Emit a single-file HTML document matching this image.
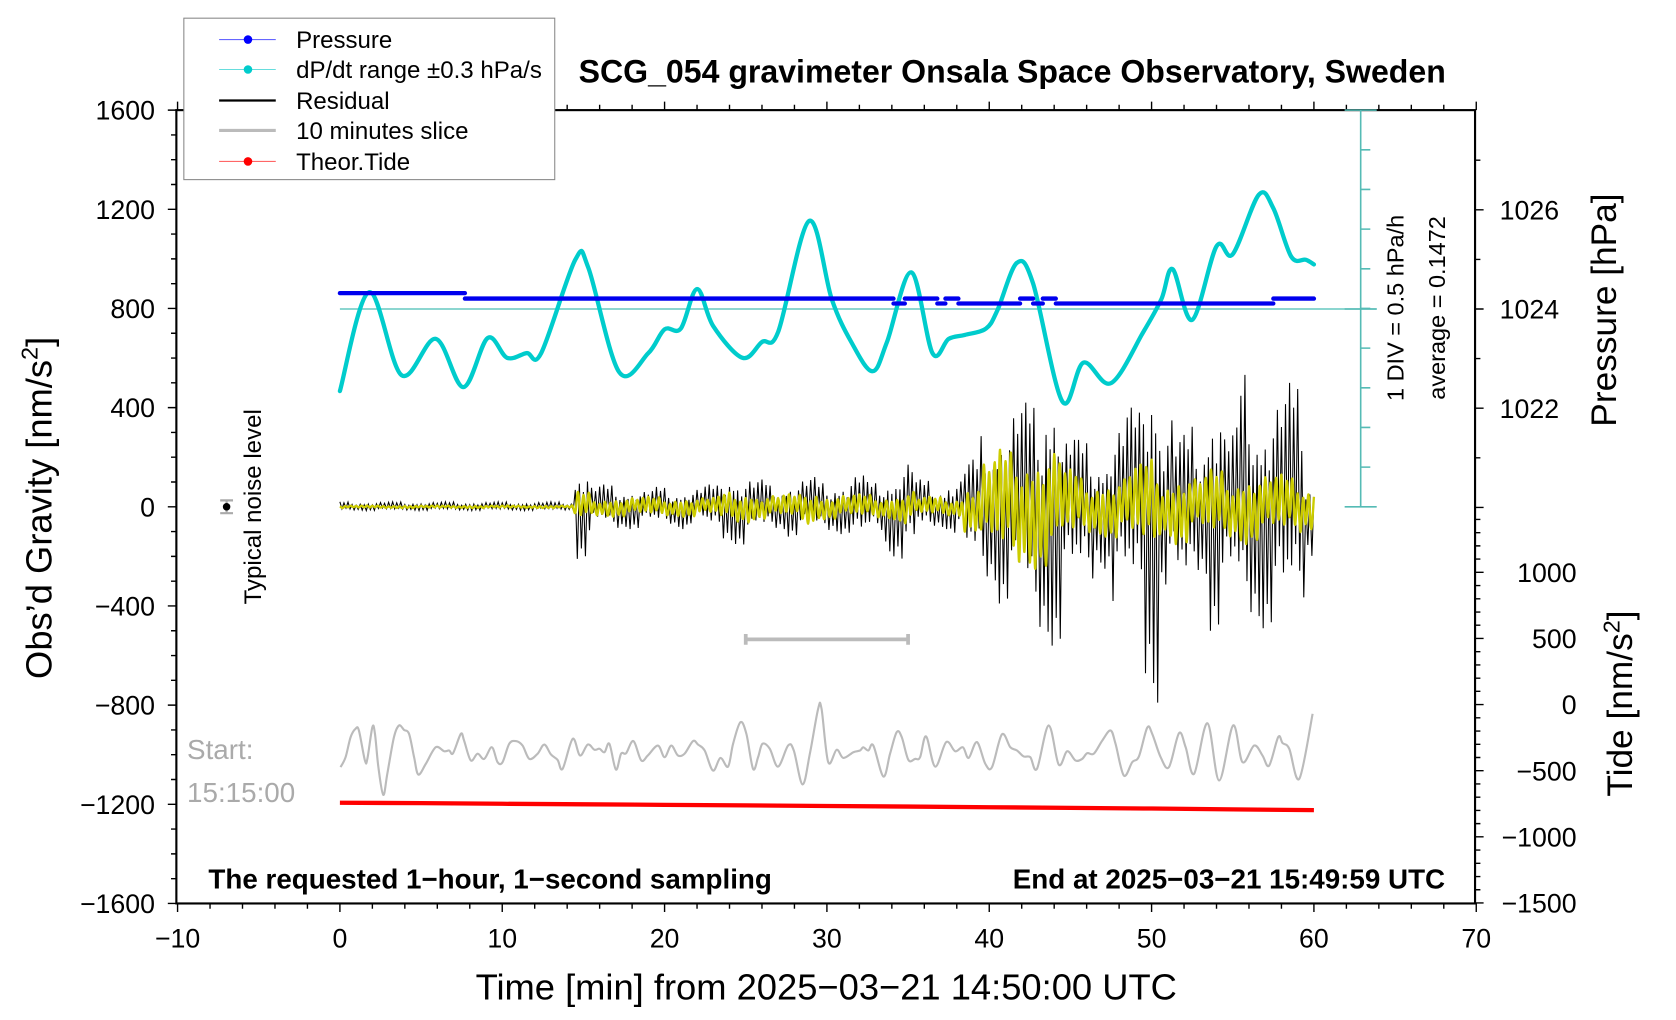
<!DOCTYPE html>
<html><head><meta charset="utf-8"><style>
html,body{margin:0;padding:0;background:#fff;}
svg{display:block;font-family:"Liberation Sans",sans-serif;}
</style></head><body>
<svg id="chart" xmlns="http://www.w3.org/2000/svg" width="1676" height="1020" viewBox="0 0 1568 954" preserveAspectRatio="none">
<g id="marks"></g>
<g id="axes"></g>
</svg>
<script>
// ---- data ----
const dpT = [0,1.8,3.8,5.9,7.6,9.1,10.3,11.5,12.4,14.5,15.3,17.2,19,20,21,22,23,24.8,26,27,28.9,30.3,31.5,32.8,33.7,35.2,36.5,37.5,38.5,39.8,40.5,41.7,42.7,44.5,45.8,47.5,49.5,50.6,51.3,52.5,54,55,56.6,57.5,58.6,59.5,60];
const dpV = [-0.89,0.36,-0.69,-0.23,-0.84,-0.22,-0.47,-0.41,-0.41,0.77,0.67,-0.65,-0.41,-0.11,-0.10,0.40,-0.07,-0.47,-0.27,-0.14,1.26,0.27,-0.27,-0.64,-0.27,0.61,-0.41,-0.23,-0.18,-0.10,0.13,0.73,0.47,-1.02,-0.53,-0.79,-0.14,0.27,0.65,0.01,0.94,0.84,1.59,1.42,0.81,0.77,0.71];
const dpAverage = 0.1472;
const presStart = [0,7.7,34.1,34.8,36.8,37.3,38.1,41.9,42.7,43.3,44.1,57.5];
const presEnd   = [7.7,34.1,34.8,36.8,37.3,38.1,41.9,42.7,43.3,44.1,57.5,60];
const presVal   = [1024.32,1024.21,1024.11,1024.21,1024.11,1024.21,1024.11,1024.21,1024.11,1024.21,1024.11,1024.21];
const tideT = [0,5,10,15,20,25,30,35,40,45,50,55,60];
const tideV = [-742,-745,-750,-754,-758,-762,-767,-771,-776,-781,-786,-792,-798];
const sliceT = [0.04,0.35,0.66,0.97,1.17,1.54,1.69,2.0,2.16,2.37,2.67,2.92,3.33,3.64,3.95,4.26,4.57,4.83,5.29,5.9,6.42,6.73,6.97,7.45,7.65,8.06,8.48,8.89,9.36,9.71,10.02,10.43,10.84,11.25,11.67,12.18,12.59,13.0,13.41,13.72,14.34,14.79,15.27,15.68,15.99,16.3,16.6,17.0,17.32,17.63,18.08,18.56,18.97,19.59,20.0,20.41,20.82,21.23,21.75,22.06,22.47,22.98,23.44,23.91,24.22,24.67,25.04,25.45,25.76,26.03,26.48,26.99,27.61,27.96,28.5,28.95,29.46,29.67,30.08,30.6,31.01,31.63,32.04,32.24,32.55,32.86,33.48,33.89,34.3,34.61,35.02,35.43,35.74,36.11,36.67,37.35,37.9,38.38,38.73,39.24,39.76,40.17,40.78,41.3,41.71,42.12,42.53,42.94,43.66,44.28,44.8,45.31,45.72,46.03,46.44,46.96,47.47,47.78,48.29,48.81,49.22,49.73,50.04,50.56,51.07,51.69,52.1,52.62,53.44,54.16,55.02,55.6,56.32,56.83,57.24,57.8,58.07,58.48,59.1,59.92];
const sliceV = [-1050,-1010,-929,-895,-902,-1023,-1017,-889,-916,-1050,-1162,-1077,-929,-882,-900,-916,-1010,-1080,-1037,-970,-986,-983,-994,-916,-943,-1023,-996,-1017,-970,-1030,-1030,-956,-945,-963,-1017,-996,-959,-999,-1021,-1057,-936,-1003,-959,-980,-976,-990,-956,-1060,-996,-994,-945,-1023,-1003,-963,-1010,-963,-1003,-996,-945,-959,-983,-1064,-1013,-1048,-956,-869,-916,-1057,-1010,-956,-976,-1048,-963,-983,-1120,-996,-815,-815,-1030,-980,-1013,-990,-983,-970,-983,-963,-1088,-996,-909,-929,-1021,-1017,-1010,-926,-1048,-949,-986,-970,-1013,-949,-1037,-1050,-918,-970,-983,-1007,-1010,-1057,-882,-1040,-986,-1023,-1017,-994,-996,-943,-902,-956,-1084,-1030,-1007,-891,-916,-1010,-1050,-913,-970,-1077,-873,-1104,-882,-1030,-963,-1003,-1044,-929,-953,-976,-1097,-835];
const residUp  = [20,20,20,20,20,20,20,20,20,20,20,20,20,20,20,170,90,90,80,70,80,70,80,90,160,120,110,90,110,120,100,110,140,100,130,200,110,90,120,190,300,380,420,420,580,300,270,240,350,400,740,410,290,340,500,320,560,420,460,500,100];
const residLow = [15,15,15,15,15,15,15,15,15,15,15,15,15,15,15,210,80,100,90,80,80,90,70,100,150,160,110,100,120,100,110,110,160,110,200,220,100,90,110,250,330,390,450,570,560,380,340,250,400,420,790,330,430,300,500,400,500,490,530,430,220];
const filtAmp  = [5,5,5,5,5,5,5,5,5,5,5,5,5,5,5,60,40,40,40,40,40,40,40,40,60,70,50,50,50,80,50,50,50,50,50,70,40,40,40,100,200,230,260,250,250,150,120,120,130,170,200,130,150,130,150,140,150,140,130,120,100];
const residPattern = [1,0.55,0.8,0.35,0.95,0.6,0.45,0.85,0.3,0.7,0.5,0.9,0.4];
const xTicks = [-10,0,10,20,30,40,50,60,70];
const yTicks = [-1600,-1200,-800,-400,0,400,800,1200,1600];
const pTicks = [1022,1024,1026];
const tideTicks = [-1500,-1000,-500,0,500,1000];

// ---- scales ----
const X = t => 318 + t * 15.1875;
const Y = g => 474 - g * 0.231875;
const P = p => 289 - (p - 1024) * 46.4;
const T = v => 659 - v * 0.1237;
const D = v => 289 - (v - dpAverage) * 74;
const NS = "http://www.w3.org/2000/svg";
const marks = document.getElementById('marks');
const axes = document.getElementById('axes');
function mk(tag, attrs, parent) {
  const e = document.createElementNS(NS, tag);
  for (const k in attrs) e.setAttribute(k, attrs[k]);
  (parent || marks).appendChild(e);
  return e;
}
function smoothPath(pts) {
  let d = `M${pts[0][0]},${pts[0][1]}`;
  for (let i = 0; i < pts.length - 1; i++) {
    const p0 = pts[i - 1] || pts[i], p1 = pts[i], p2 = pts[i + 1], p3 = pts[i + 2] || p2;
    const c1x = p1[0] + (p2[0] - p0[0]) / 6, c1y = p1[1] + (p2[1] - p0[1]) / 6;
    const c2x = p2[0] - (p3[0] - p1[0]) / 6, c2y = p2[1] - (p3[1] - p1[1]) / 6;
    d += ` C${c1x},${c1y} ${c2x},${c2y} ${p2[0]},${p2[1]}`;
  }
  return d;
}
function txt(x, y, s, attrs, parent) {
  const e = mk('text', Object.assign({x: x, y: y}, attrs), parent || axes);
  e.textContent = s;
  return e;
}

let e = mk('line', {x1: X(0), x2: 1288, y1: D(dpAverage), y2: D(dpAverage), stroke: '#66c8c0', 'stroke-width': 1.3});



let rp = [];
for (let k = 0; k <= 480; k++) {
  const t = k / 8;
  const m = Math.min(60, Math.round(t));
  const a = (k % 2 === 0 ? residUp[m] : -residLow[m]) * residPattern[k % residPattern.length];
  rp.push([X(t), Y(a)]);
}
e = mk('path', {d: 'M' + rp.map(p => p.join(',')).join(' L'), fill: 'none', stroke: '#000', 'stroke-width': 1});


let fp = [];
for (let k = 0; k <= 360; k++) {
  const t = k / 6;
  const m = Math.min(60, Math.round(t));
  const a = (k % 2 === 0 ? 1 : -1) * filtAmp[m] * residPattern[(k + 3) % residPattern.length];
  fp.push([X(t), Y(a)]);
}
e = mk('path', {d: smoothPath(fp), fill: 'none', stroke: '#cccc00', 'stroke-width': 2.2});



e = mk('path', {d: smoothPath(dpT.map((t, i) => [X(t), D(dpV[i])])), fill: 'none', stroke: '#00cccc', 'stroke-width': 4, 'stroke-linecap': 'round'});



presVal.forEach((p, i) => {
  const s = mk('line', {x1: X(presStart[i]), x2: X(presEnd[i]), y1: P(p), y2: P(p), stroke: '#0000ee', 'stroke-width': 4, 'stroke-linecap': 'round'});
  
  
});

e = mk('path', {d: smoothPath(sliceT.map((t, i) => [X(t), Y(sliceV[i])])), fill: 'none', stroke: '#bbbbbb', 'stroke-width': 2});



e = mk('path', {d: 'M' + tideT.map((t, i) => X(t) + ',' + T(tideV[i])).join(' L'), fill: 'none', stroke: '#ff0000', 'stroke-width': 4});



e = mk('path', {d: `M${X(25)},${593} V603 M${X(25)},598 H${X(35)} M${X(35)},593 V603`, stroke: '#bbbbbb', 'stroke-width': 3.5, fill: 'none'});



e = mk('path', {d: 'M206,468 H218 M212,468 V480 M206,480 H218', stroke: '#aaa', 'stroke-width': 2, fill: 'none'});


e = mk('circle', {cx: 212, cy: 474, r: 3.5, fill: '#000'});



e = mk('rect', {x: 165, y: 103, width: 1215, height: 742, fill: 'none', stroke: '#000', 'stroke-width': 2}, axes);


let tk = '';
for (let t = -10; t <= 70; t += 2) {
  const len = (t % 10 === 0) ? 8 : 5;
  tk += `M${X(t)},845 V${845 + len} M${X(t)},103 V${103 - len} `;
}
for (let g = -1600; g <= 1600; g += 100) {
  const len = (g % 400 === 0) ? 8 : 5;
  tk += `M165,${Y(g)} H${165 - len} `;
}
for (let p = 1020; p <= 1027; p++) {
  const len = (p % 2 === 0) ? 8 : 5;
  tk += `M1380,${P(p)} H${1380 + len} `;
}
for (let v = -1500; v <= 1400; v += 100) {
  const len = (v % 500 === 0) ? 8 : 5;
  tk += `M1380,${T(v)} H${1380 + len} `;
}
e = mk('path', {d: tk, stroke: '#000', 'stroke-width': 1.3, fill: 'none'}, axes);


const fmt = v => (v < 0 ? '\u2212' + Math.abs(v) : String(v));
xTicks.forEach(t => { const l = txt(X(t), 886, fmt(t), {'font-size': 25, 'text-anchor': 'middle'});   });
yTicks.forEach(g => { const l = txt(145, Y(g) + 9, fmt(g), {'font-size': 25, 'text-anchor': 'end'});   });
pTicks.forEach(p => { const l = txt(1403, P(p) + 9, String(p), {'font-size': 25});   });
tideTicks.forEach(v => { const l = txt(1475, T(v) + 9, fmt(v), {'font-size': 25, 'text-anchor': 'end'});   });

let sb = 'M1273,103 V474 M1258,474 H1288 M1258,289 H1288 M1258,103 H1288 ';
for (let y = 103 + 37.1; y < 474; y += 37.1) sb += `M1273,${y} H1282 `;
e = mk('path', {d: sb, stroke: '#55bbb5', 'stroke-width': 1.5, fill: 'none'}, axes);


</script>
<svg style="position:absolute;left:0;top:0" width="1676" height="1020" viewBox="0 0 1568 954" preserveAspectRatio="none" font-family="Liberation Sans, sans-serif">
<text x="947" y="77" font-size="30" font-weight="bold" text-anchor="middle">SCG_054 gravimeter Onsala Space Observatory, Sweden</text>
<text x="773" y="935" font-size="34" text-anchor="middle">Time [min] from 2025−03−21 14:50:00 UTC</text>
<text transform="translate(48,475) rotate(-90)" font-size="34" text-anchor="middle">Obs’d Gravity [nm/s<tspan font-size="22" dy="-13">2</tspan><tspan dy="13">]</tspan></text>
<text transform="translate(1512,290) rotate(-90)" font-size="33" text-anchor="middle">Pressure [hPa]</text>
<text transform="translate(1527,658) rotate(-90)" font-size="33" text-anchor="middle">Tide [nm/s<tspan font-size="22" dy="-12">2</tspan><tspan dy="12">]</tspan></text>
<text transform="translate(1313,288) rotate(-90)" font-size="22" text-anchor="middle">1 DIV = 0.5 hPa/h</text>
<text transform="translate(1352,288) rotate(-90)" font-size="22" text-anchor="middle">average = 0.1472</text>
<text transform="translate(244,474) rotate(-90)" font-size="22.5" text-anchor="middle">Typical noise level</text>
<text x="175" y="710" font-size="26" fill="#aaa">Start:</text>
<text x="175" y="750" font-size="26" fill="#aaa">15:15:00</text>
<text x="195" y="831" font-size="26" font-weight="bold">The requested 1−hour, 1−second sampling</text>
<text x="1352" y="831" font-size="26" font-weight="bold" text-anchor="end">End at 2025−03−21 15:49:59 UTC</text>
<g>
<rect x="172" y="17" width="347" height="151" fill="#fff" stroke="#888" stroke-width="1"/>
<g><line x1="205" x2="258" y1="37" y2="37" stroke="#6666ff" stroke-width="1"/><circle cx="232" cy="37" r="4" fill="#0000ff"/><text x="277" y="45" font-size="22.5">Pressure</text></g>
<g><line x1="205" x2="258" y1="65" y2="65" stroke="#66dddd" stroke-width="1"/><circle cx="232" cy="65" r="4" fill="#00cccc"/><text x="277" y="73" font-size="22.5">dP/dt range ±0.3 hPa/s</text></g>
<g><line x1="205" x2="258" y1="94" y2="94" stroke="#000" stroke-width="2"/><text x="277" y="102" font-size="22.5">Residual</text></g>
<g><line x1="205" x2="258" y1="122" y2="122" stroke="#bbb" stroke-width="3"/><text x="277" y="130" font-size="22.5">10 minutes slice</text></g>
<g><line x1="205" x2="258" y1="151" y2="151" stroke="#ff6666" stroke-width="1"/><circle cx="232" cy="151" r="4" fill="#ff0000"/><text x="277" y="159" font-size="22.5">Theor.Tide</text></g>
</g>
</svg>
<style>body{position:relative;width:1676px;height:1020px;overflow:hidden;}</style>
</body></html>
